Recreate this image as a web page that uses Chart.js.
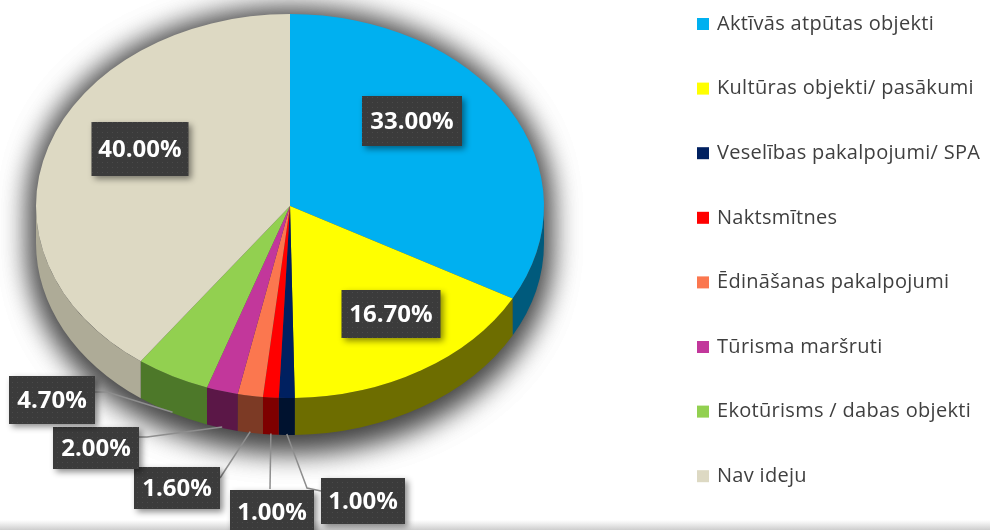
<!DOCTYPE html>
<html>
<head>
<meta charset="utf-8">
<script src="https://cdn.jsdelivr.net/npm/chart.js@4.4.1/dist/chart.umd.min.js"></script>
<style>
  html, body { margin: 0; padding: 0; background: #fff; }
  canvas { display: block; }
</style>
</head>
<body>
<canvas id="pie" width="990" height="530"></canvas>
<script>
// ── DATA ───────────────────────────────────────────────────────────────
const CATEGORIES = [
  'Aktīvās atpūtas objekti',
  'Kultūras objekti/ pasākumi',
  'Veselības pakalpojumi/ SPA',
  'Naktsmītnes',
  'Ēdināšanas pakalpojumi',
  'Tūrisma maršruti',
  'Ekotūrisms / dabas objekti',
  'Nav ideju'
];
const SHARES = [33.0, 16.7, 1.0, 1.0, 1.6, 2.0, 4.7, 40.0];

// ── COLOURS ────────────────────────────────────────────────────────────
const TOP_COLORS  = ['#00b0f0', '#ffff00', '#002060', '#ff0000', '#fb774f', '#c2379b', '#92d050', '#ddd9c3'];
const SIDE_COLORS = ['#005a7c', '#6d6d00', '#00122f', '#7e0000', '#7c3a25', '#5b1747', '#4d7829', '#aeab97'];

// ── LAYOUT ─────────────────────────────────────────────────────────────
const PIE_CY = 206;      // screen y of the tilted pie centre
const TILT = 192 / 254;  // vertical squash of the top face
const DEPTH = 37;        // thickness of the rim in px

// label boxes: centre x, centre y, width, height
const LABEL_BOX = [
  [412, 121, 100, 50], [391, 314, 99, 48], [363, 501, 84, 46], [272, 512, 84, 44],
  [177, 488, 86, 42],  [96, 448, 86, 42],  [52, 400, 86, 48],  [140, 149, 97, 54]
];
// leader lines: points from the box towards the slice rim
const LEADER_FROM = [
  null, null,
  [[321, 491], [307, 488]],
  [[270, 489]],
  [[220, 478]],
  [[139, 437], [147, 437]],
  [[95, 392], [107, 392]],
  null
];

const LEGEND_X = 697;
const LEGEND_Y0 = 24;
const LEGEND_STEP = 64.6;

// ── HELPERS ────────────────────────────────────────────────────────────
function dotPattern(ctx) {
  const c = document.createElement('canvas');
  c.width = 5; c.height = 5;
  const g = c.getContext('2d');
  g.fillStyle = '#3b3b3b';
  g.fillRect(0, 0, 5, 5);
  g.fillStyle = '#4a4a4a';
  g.fillRect(2, 2, 1, 1);
  return ctx.createPattern(c, 'repeat');
}

function squash(ctx, cy) {
  ctx.translate(0, PIE_CY);
  ctx.scale(1, TILT);
  ctx.translate(0, -cy);
}

// ── 3D RIM + SHADOW (drawn under the library's slices) ────────────────
const rimPlugin = {
  id: 'rim',
  beforeDatasetsDraw(chart) {
    const ctx = chart.ctx;
    const arcs = chart.getDatasetMeta(0).data;
    const { x: cx, y: cy, outerRadius: r } = arcs[0].getProps(['x', 'y', 'outerRadius'], true);
    const d = DEPTH / TILT;
    const ry = r * TILT;

    // grey halo: the shape sits off-canvas, only its shadow lands here
    const OFF = 3000;
    ctx.save();
    ctx.shadowColor = 'rgba(0,0,0,0.5)';
    ctx.shadowBlur = 28;
    ctx.shadowOffsetX = OFF;
    ctx.shadowOffsetY = 2;
    ctx.fillStyle = '#000';
    for (let k = 0; k < 2; k++) {
      ctx.beginPath();
      ctx.ellipse(cx - OFF, PIE_CY, r + 6, ry + 6, 0, Math.PI, 2 * Math.PI);
      ctx.ellipse(cx - OFF, PIE_CY + DEPTH + 4, r + 6, ry + 10, 0, 0, Math.PI);
      ctx.closePath();
      ctx.fill();
    }
    ctx.restore();

    ctx.save();
    squash(ctx, cy);

    // front walls of every slice
    arcs.forEach((arc, i) => {
      const p = arc.getProps(['startAngle', 'endAngle'], true);
      const a1 = Math.max(p.startAngle, 0);
      const a2 = Math.min(p.endAngle, Math.PI);
      if (a2 <= a1) return;
      ctx.beginPath();
      ctx.arc(cx, cy, r, a1, a2);
      ctx.arc(cx, cy + d, r, a2, a1, true);
      ctx.closePath();
      ctx.fillStyle = SIDE_COLORS[i];
      ctx.fill();
    });
    ctx.restore();

    // tilt the top face the library draws next
    ctx.save();
    squash(ctx, cy);
  },
  afterDatasetsDraw(chart) {
    chart.ctx.restore();
  }
};

// ── BACKGROUND, LABELS, LEGEND ─────────────────────────────────────────
const decorPlugin = {
  id: 'decor',
  beforeDraw(chart) {
    const { ctx, width, height } = chart;
    ctx.save();
    ctx.fillStyle = '#fff';
    ctx.fillRect(0, 0, width, height);
    const g = ctx.createLinearGradient(0, height - 10, 0, height);
    g.addColorStop(0, 'rgba(210,210,210,0)');
    g.addColorStop(1, 'rgba(205,205,205,1)');
    ctx.fillStyle = g;
    ctx.fillRect(0, height - 10, width, 10);
    ctx.restore();
  },
  afterDraw(chart) {
    const ctx = chart.ctx;
    const arcs = chart.getDatasetMeta(0).data;
    const { x: cx, outerRadius: r } = arcs[0].getProps(['x', 'outerRadius'], true);
    const pattern = dotPattern(ctx);

    // leader lines
    ctx.save();
    ctx.strokeStyle = '#8e8e8e';
    ctx.lineWidth = 1.5;
    arcs.forEach((arc, i) => {
      const pts = LEADER_FROM[i];
      if (!pts) return;
      const p = arc.getProps(['startAngle', 'endAngle'], true);
      const mid = (p.startAngle + p.endAngle) / 2;
      const ex = cx + r * Math.cos(mid);
      const ey = PIE_CY + TILT * r * Math.sin(mid) + DEPTH - 1;
      ctx.beginPath();
      ctx.moveTo(pts[0][0], pts[0][1]);
      pts.slice(1).forEach(q => ctx.lineTo(q[0], q[1]));
      ctx.lineTo(ex, ey);
      ctx.stroke();
    });
    ctx.restore();

    // value boxes
    ctx.save();
    ctx.font = 'bold 24px "Open Sans"';
    ctx.textAlign = 'center';
    ctx.textBaseline = 'middle';
    SHARES.forEach((v, i) => {
      const [bx, by, bw, bh] = LABEL_BOX[i];
      ctx.save();
      ctx.shadowColor = 'rgba(0,0,0,0.45)';
      ctx.shadowBlur = 6;
      ctx.shadowOffsetX = 3;
      ctx.shadowOffsetY = 3;
      ctx.fillStyle = pattern;
      ctx.fillRect(bx - bw / 2, by - bh / 2, bw, bh);
      ctx.restore();
      ctx.fillStyle = '#fff';
      ctx.fillText(v.toFixed(2) + '%', bx, by + 1);
    });
    ctx.restore();

    // legend
    ctx.save();
    ctx.font = '20px "Open Sans"';
    ctx.letterSpacing = '0.3px';
    ctx.textBaseline = 'middle';
    CATEGORIES.forEach((name, i) => {
      const y = LEGEND_Y0 + i * LEGEND_STEP;
      ctx.fillStyle = TOP_COLORS[i];
      ctx.fillRect(LEGEND_X, y - 6, 12, 12);
      ctx.fillStyle = '#3f3f3f';
      ctx.fillText(name, LEGEND_X + 20, y);
    });
    ctx.restore();
  }
};

// ── CHART ──────────────────────────────────────────────────────────────
new Chart(document.getElementById('pie'), {
  type: 'pie',
  data: {
    labels: CATEGORIES,
    datasets: [{
      data: SHARES,
      backgroundColor: TOP_COLORS,
      borderWidth: 0,
      hoverOffset: 0,
      offset: 0
    }]
  },
  options: {
    responsive: false,
    animation: false,
    devicePixelRatio: 1,
    events: [],
    rotation: 0,
    layout: { padding: { left: 36, right: 446, top: 11, bottom: 11 } },
    plugins: {
      legend: { display: false },
      tooltip: { enabled: false }
    }
  },
  plugins: [rimPlugin, decorPlugin]
});
</script>
</body>
</html>
